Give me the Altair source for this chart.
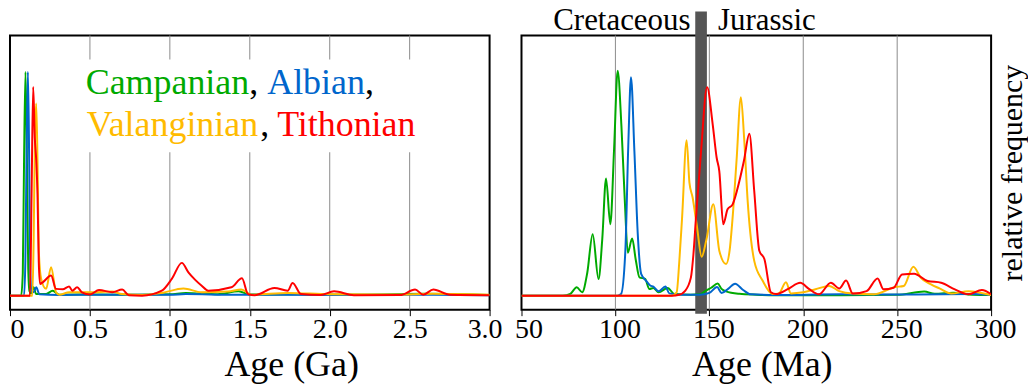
import altair as alt
import pandas as pd

# ---------------- data ----------------
series_names = ["Campanian", "Albian", "Valanginian", "Tithonian"]
series_colors = ["#00aa00", "#0066cc", "#ffbb00", "#ff0000"]

# Left panel: age in Ga
ga_green_x = [0, 0.07, 0.08, 0.088, 0.097, 0.106, 0.114, 0.122, 0.132, 0.147, 0.164, 0.226, 0.267, 0.308,
              0.5, 0.8, 1.0, 1.1, 1.3, 1.43, 1.5, 1.8, 2.2, 2.6, 3.0]
ga_green_y = [0, 0, 0.1, 0.6, 0.99, 0.6, 0.12, 0.02, 0.01, 0.037, 0.007, 0.007, 0.022, 0.004,
              0.005, 0.004, 0.006, 0.012, 0.006, 0.019, 0.005, 0.006, 0.004, 0.008, 0.003]

ga_blue_x = [0, 0.088, 0.096, 0.104, 0.112, 0.12, 0.127, 0.135, 0.147, 0.164, 0.184, 0.3, 0.6, 1.0, 1.1,
             1.4, 1.7, 2.0, 2.5, 3.0]
ga_blue_y = [0, 0, 0.15, 0.65, 0.99, 0.6, 0.1, 0.02, 0.015, 0.037, 0.006, 0.003, 0.004, 0.004, 0.007,
             0.004, 0.004, 0.003, 0.004, 0.002]

ga_yellow_x = [0, 0.14, 0.148, 0.156, 0.164, 0.172, 0.18, 0.195, 0.226, 0.257, 0.288, 0.308, 0.371, 0.495,
               0.64, 0.70, 0.83, 0.95, 1.085, 1.199, 1.364, 1.447, 1.51, 1.74, 2.0, 2.4, 2.65, 3.0]
ga_yellow_y = [0, 0, 0.25, 0.7, 0.85, 0.6, 0.2, 0.074, 0.03, 0.126, 0.015, 0.004, 0.015, 0.015,
               0.018, 0.007, 0.003, 0.012, 0.032, 0.015, 0.018, 0.027, 0.004, 0.012, 0.006, 0.005, 0.008, 0.004]

ga_red_x = [0, 0.125, 0.135, 0.145, 0.155, 0.164, 0.172, 0.18, 0.188, 0.205, 0.257, 0.288, 0.33, 0.37, 0.39,
            0.42, 0.45, 0.5, 0.557, 0.64, 0.702, 0.743, 0.826, 0.95, 1.012, 1.075, 1.116, 1.157, 1.199,
            1.24, 1.385, 1.451, 1.489, 1.53, 1.654, 1.737, 1.768, 1.82, 1.944, 2.027, 2.151, 2.441,
            2.534, 2.585, 2.648, 2.752, 3.0]
ga_red_y = [0, 0, 0.45, 0.923, 0.7, 0.6, 0.45, 0.15, 0.052, 0.059, 0.089, 0.03, 0.028, 0.04, 0.022,
            0.037, 0.015, 0.005, 0.025, 0.015, 0.027, 0.002, 0.0, 0.022, 0.074, 0.145, 0.103, 0.071, 0.044,
            0.022, 0.037, 0.077, 0.007, 0.002, 0.034, 0.022, 0.056, 0.007, 0.003, 0.019, 0.002, 0.003,
            0.027, 0.004, 0.027, 0.004, 0.002]

# Right panel: age in Ma
ma_green_x = [50, 72, 76, 79.4, 82.3, 85, 87.9, 91, 93, 95, 97.3, 99.3, 101.2, 103.2, 105, 106.6, 108.9,
              110.8, 112.8, 115.8, 118.1, 120.2, 123, 127.8, 131.4, 140, 145, 148.2, 151, 154.4, 156.5,
              158.9, 166, 175, 185, 220, 250, 264.4, 270, 279.8, 290, 300]
ma_green_y = [0, 0, 0.008, 0.037, 0.015, 0.1, 0.272, 0.074, 0.25, 0.518, 0.316, 0.65, 0.995, 0.75, 0.42,
              0.19, 0.253, 0.16, 0.081, 0.074, 0.029, 0.034, 0.015, 0.034, 0.007, 0.004, 0.006, 0.022,
              0.035, 0.054, 0.03, 0.019, 0.008, 0.004, 0.002, 0.002, 0.004, 0.018, 0.008, 0.013, 0.004, 0.003]

ma_blue_x = [50, 101, 103, 105.3, 106.8, 108.3, 110.1, 111.9, 113.7, 116.3, 118.5, 120.2, 123, 126.6,
             128.7, 135, 145, 150, 154.1, 156.5, 160, 163.7, 168, 172, 185, 220, 260, 290, 300]
ma_blue_y = [0, 0, 0.007, 0.2, 0.65, 0.966, 0.64, 0.272, 0.096, 0.066, 0.045, 0.04, 0.019, 0.04,
             0.01, 0.004, 0.004, 0.012, 0.038, 0.012, 0.03, 0.053, 0.025, 0.006, 0.003, 0.006, 0.005, 0.007, 0.003]

ma_yellow_x = [50, 130, 132.6, 134, 135.5, 137.9, 139.4, 141.1, 143.5, 145.9, 148.5, 152.1, 155.3, 158.9,
               160.8, 162.4, 164.5, 166.8, 168.5, 170.4, 173.9, 178.4, 183.7, 187, 190.8, 193.4, 200,
               206.5, 213.8, 219.2, 226.4, 237.3, 249, 253.5, 258.6, 262.6, 268, 272.5, 278.8, 287.9, 300]
ma_yellow_y = [0, 0, 0.015, 0.15, 0.346, 0.687, 0.5, 0.434, 0.3, 0.172, 0.25, 0.404, 0.199, 0.14,
               0.2, 0.346, 0.6, 0.878, 0.7, 0.419, 0.154, 0.066, 0.007, 0.01, 0.059, 0.01, 0.015,
               0.028, 0.043, 0.02, 0.009, 0.006, 0.038, 0.043, 0.128, 0.079, 0.05, 0.032, 0.009, 0.02, 0.003]

ma_red_x = [50, 130, 134, 137, 140.2, 141.5, 142.9, 145.6, 148.8, 151.8, 153.9, 155.3, 157.4, 159.7, 162.4,
            166, 168.5, 171.3, 173.9, 176.6, 179.3, 182.8, 185.5, 192, 198.4, 203, 208.4, 214.7, 219.2,
            222.8, 226.4, 233.7, 239.6, 242.7, 248.1, 252.6, 259, 266.2, 273.4, 280.7, 287.9, 295.1, 300]
ma_red_y = [0, 0, 0.004, 0.02, 0.081, 0.18, 0.346, 0.64, 0.922, 0.757, 0.61, 0.551, 0.316, 0.382, 0.404,
            0.507, 0.6, 0.716, 0.463, 0.199, 0.162, 0.015, 0.007, 0.03, 0.057, 0.03, 0.006, 0.057, 0.032,
            0.067, 0.009, 0.02, 0.076, 0.028, 0.035, 0.094, 0.097, 0.065, 0.057, 0.028, 0.006, 0.025, 0.006]

ga_ticks = [0, 0.5, 1.0, 1.5, 2.0, 2.5, 3.0]
ga_grid = [0.5, 1.0, 1.5, 2.0, 2.5]
ma_ticks = [50, 100, 150, 200, 250, 300]
ma_grid = [100, 150, 200, 250]
boundary_band = [142.5, 148.7]   # Jurassic / Cretaceous boundary marker (Ma)
period_labels = ["Cretaceous", "Jurassic"]

# ---------------- style ----------------
FONT = "Liberation Serif"
Y_DOMAIN = [-0.062, 1.151]
LW, RW, H = 481, 471, 275
GRID = "#8c8c8c"
LEG = 36

yscale = alt.Scale(domain=Y_DOMAIN, nice=False, zero=False)


def xaxis(values, title, title_x, label_expr, label_offset):
    return alt.Axis(values=values, title=title, grid=False, domain=False,
                    tickSize=6, tickColor="black", tickWidth=1,
                    labelPadding=0, labelFontSize=28, labelFont=FONT, labelColor="black",
                    labelFlush=False, labelOverlap=False, labelExpr=label_expr, labelOffset=label_offset,
                    labelAlign={"condition": {"test": "datum.value == 0", "value": "left"}, "value": "center"},
                    titleFont=FONT, titleFontSize=36, titleFontWeight="normal", titleColor="black",
                    titleX=title_x, titleY=66, titleBaseline="alphabetic", titleAlign="center")


def panel(xs_list, ys_list, xdom, ax, yax, grid_vals, extra_back=None, extra_front=None):
    xscale = alt.Scale(domain=xdom, nice=False, zero=False)
    layers = []
    layers.append(alt.Chart(pd.DataFrame({"x": grid_vals})).mark_rule(color=GRID, strokeWidth=1).encode(
        x=alt.X("x:Q", scale=xscale, axis=ax)))
    if extra_back:
        layers += extra_back(xscale, ax)
    for xs, ys, c in zip(xs_list, ys_list, series_colors):
        df = pd.DataFrame({"x": xs, "v": ys})
        layers.append(alt.Chart(df).mark_line(color=c, strokeWidth=2, interpolate="monotone", clip=True).encode(
            x=alt.X("x:Q", scale=xscale, axis=ax),
            y=alt.Y("v:Q", scale=yscale, axis=yax)))
    if extra_front:
        layers += extra_front()
    return layers


def text_mark(txt, x, y, size, color, align="left"):
    return alt.Chart(pd.DataFrame({"t": [txt]})).mark_text(
        text=txt, font=FONT, fontSize=size, color=color, align=align, baseline="alphabetic"
    ).encode(x=alt.value(x), y=alt.value(y))


# left panel
ax_left = xaxis(ga_ticks, "Age (Ga)", 282, "datum.value == 0 ? '0' : format(datum.value, '.1f')",
                {"condition": {"test": "datum.value == 3", "value": -5}, "value": 0})


def left_back(xscale, ax):
    return [alt.Chart(pd.DataFrame({"a": [0]})).mark_rect(color="white").encode(
        x=alt.value(68), x2=alt.value(413), y=alt.value(24), y2=alt.value(117))]


def left_front():
    return [
        text_mark(series_names[0], 76, 59, LEG, series_colors[0]),
        text_mark(",", 240, 59, LEG, "black"),
        text_mark(series_names[1], 258, 59, LEG, series_colors[1]),
        text_mark(",", 356, 59, LEG, "black"),
        text_mark(series_names[2], 77, 101, LEG, series_colors[2]),
        text_mark(",", 251, 101, LEG, "black"),
        text_mark(series_names[3], 268, 101, LEG, series_colors[3]),
    ]


left = alt.layer(*panel([ga_green_x, ga_blue_x, ga_yellow_x, ga_red_x],
                        [ga_green_y, ga_blue_y, ga_yellow_y, ga_red_y],
                        [0, 3], ax_left, None, ga_grid, left_back, left_front)
                 ).properties(width=LW, height=H)

# right panel
ax_right = xaxis(ma_ticks, "Age (Ma)", 241, "format(datum.value, 'd')",
                 {"condition": {"test": "datum.value == 50", "value": 7}, "value": 4})
yax_right = alt.Axis(orient="right", title="relative frequency", labels=False, ticks=False, domain=False,
                     grid=False, titleAngle=270, titleBaseline="top", titleAlign="center", titlePadding=6,
                     titleFont=FONT, titleFontSize=30, titleFontWeight="normal", titleColor="black")


def right_back(xscale, ax):
    df = pd.DataFrame({"x0": [boundary_band[0]], "x1": [boundary_band[1]]})
    return [alt.Chart(df).mark_rect(color="#555555", clip=False).encode(
        x=alt.X("x0:Q", scale=xscale, axis=ax), x2="x1:Q",
        y=alt.value(-24), y2=alt.value(279))]


def right_front():
    return [
        text_mark(period_labels[0], 169.5, -5, 31, "black", align="right"),
        text_mark(period_labels[1], 197, -5, 31, "black", align="left"),
    ]


right = alt.layer(*panel([ma_green_x, ma_blue_x, ma_yellow_x, ma_red_x],
                         [ma_green_y, ma_blue_y, ma_yellow_y, ma_red_y],
                         [50, 300], ax_right, yax_right, ma_grid, right_back, right_front)
                  ).properties(width=RW, height=H)

chart = alt.hconcat(left, right, spacing=32, bounds="flush").properties(
    padding={"left": 0, "top": -4, "right": 0, "bottom": 0}
).configure_view(stroke="black", strokeWidth=2)

chart.save("out.html", embed_options={"renderer": "svg", "actions": False})
